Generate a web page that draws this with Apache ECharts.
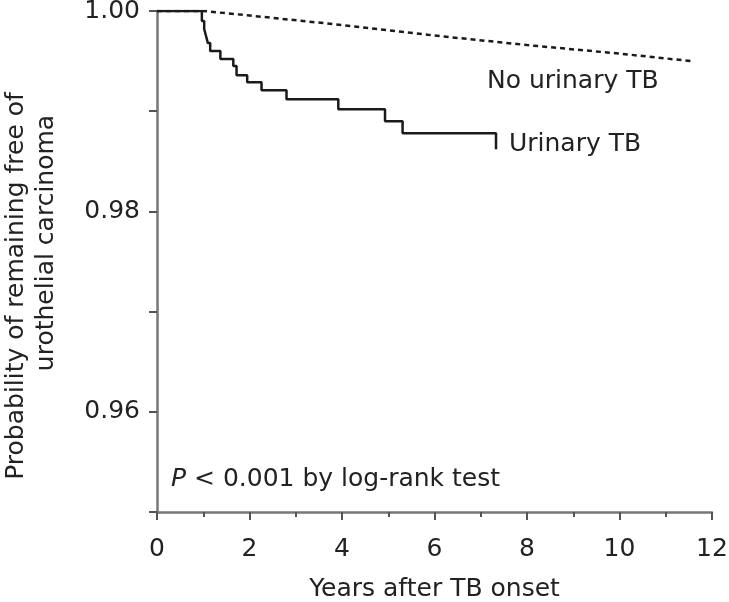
<!DOCTYPE html>
<html>
<head>
<meta charset="utf-8">
<script src="https://cdn.jsdelivr.net/npm/echarts@6/dist/echarts.min.js"></script>
<style>
html,body{margin:0;padding:0;background:#fff;}
#c{width:729px;height:602px;}
</style>
</head>
<body>
<div id="c"></div>
<script>
// Urinary TB Kaplan-Meier curve (time in years, survival probability)
var urinaryTimes = [0, 0.97, 1.02, 1.06, 1.10, 1.15, 1.37, 1.65, 1.72, 1.95, 2.26, 2.80, 3.92, 4.93, 5.31, 7.33, 7.33];
var urinarySurv  = [1.0, 0.9990, 0.9982, 0.9975, 0.9968, 0.9960, 0.9952, 0.9945, 0.9936, 0.9929, 0.9921, 0.9912, 0.9902, 0.9890, 0.9878, 0.9878, 0.9862];
// No urinary TB curve
var noUrinaryTimes = [0, 1.0, 2, 4, 6, 8, 10, 11.55];
var noUrinarySurv  = [1.0, 1.0, 0.99955, 0.9986, 0.99755, 0.9966, 0.99575, 0.9950];
// Axis ticks
var xTicks = [0, 2, 4, 6, 8, 10, 12];
var yTickLabels = ['0.96', '0.98', '1.00'];

var FONT = '"DejaVu Sans", "Liberation Sans", Arial, sans-serif';
var FS = 25;
var TXT = '#222';

function zip(a, b){ return a.map(function(v,i){ return [v, b[i]]; }); }

var chart = echarts.init(document.getElementById('c'));
chart.setOption({
  animation: false,
  backgroundColor: '#fff',
  grid: { left: 157, right: 17, top: 11, bottom: 90, containLabel: false, outerBoundsMode: 'none' },
  xAxis: {
    type: 'value', min: 0, max: 12, interval: 2,
    axisLine: { show: true, onZero: false, lineStyle: { color: '#777', width: 2.5 } },
    axisTick: { show: true, length: 8, lineStyle: { color: '#555', width: 2 } },
    minorTick: { show: true, splitNumber: 2, length: 5, lineStyle: { color: '#555', width: 2 } },
    splitLine: { show: false },
    axisLabel: { color: TXT, fontSize: FS, fontFamily: FONT, margin: 25,
      formatter: function(v){ return xTicks.indexOf(v) >= 0 ? String(v) : ''; } },
    name: 'Years after TB onset', nameLocation: 'middle', nameGap: 65,
    nameTextStyle: { color: TXT, fontSize: FS, fontFamily: FONT }
  },
  yAxis: {
    type: 'value', min: 0.95, max: 1.0, interval: 0.01,
    axisLine: { show: true, onZero: false, lineStyle: { color: '#777', width: 2.5 } },
    axisTick: { show: true, length: 8, lineStyle: { color: '#555', width: 2 } },
    splitLine: { show: false },
    axisLabel: { color: TXT, fontSize: FS, fontFamily: FONT, margin: 17,
      formatter: function(v){ var s = v.toFixed(2); return yTickLabels.indexOf(s) >= 0 ? s : ''; } }
  },
  series: [
    {
      name: 'No urinary TB', type: 'line', data: zip(noUrinaryTimes, noUrinarySurv),
      showSymbol: false, symbol: 'none',
      lineStyle: { color: '#1a1a1a', width: 2.5, type: [5, 4] }, z: 2
    },
    {
      name: 'Urinary TB', type: 'line', step: 'end', data: zip(urinaryTimes, urinarySurv),
      showSymbol: false, symbol: 'none',
      lineStyle: { color: '#1a1a1a', width: 2.5 }, z: 3
    }
  ],
  graphic: [
    { type: 'text', x: 16, y: 286, rotation: Math.PI / 2,
      style: { text: 'Probability of remaining free of', fill: TXT, font: FS + 'px ' + FONT, align: 'center', verticalAlign: 'middle' } },
    { type: 'text', x: 46, y: 243, rotation: Math.PI / 2,
      style: { text: 'urothelial carcinoma', fill: TXT, font: FS + 'px ' + FONT, align: 'center', verticalAlign: 'middle' } },
    { type: 'text', left: 487, top: 69, style: { text: 'No urinary TB', fill: TXT, font: FS + 'px ' + FONT } },
    { type: 'text', left: 509, top: 132, style: { text: 'Urinary TB', fill: TXT, font: FS + 'px ' + FONT } },
    { type: 'text', left: 171, top: 467, style: {
        rich: { i: { fontStyle: 'italic', fontSize: FS, fontFamily: FONT, fill: TXT },
                n: { fontSize: FS, fontFamily: FONT, fill: TXT } },
        text: '{i|P}{n| < 0.001 by log-rank test}' } }
  ]
});
</script>
</body>
</html>
